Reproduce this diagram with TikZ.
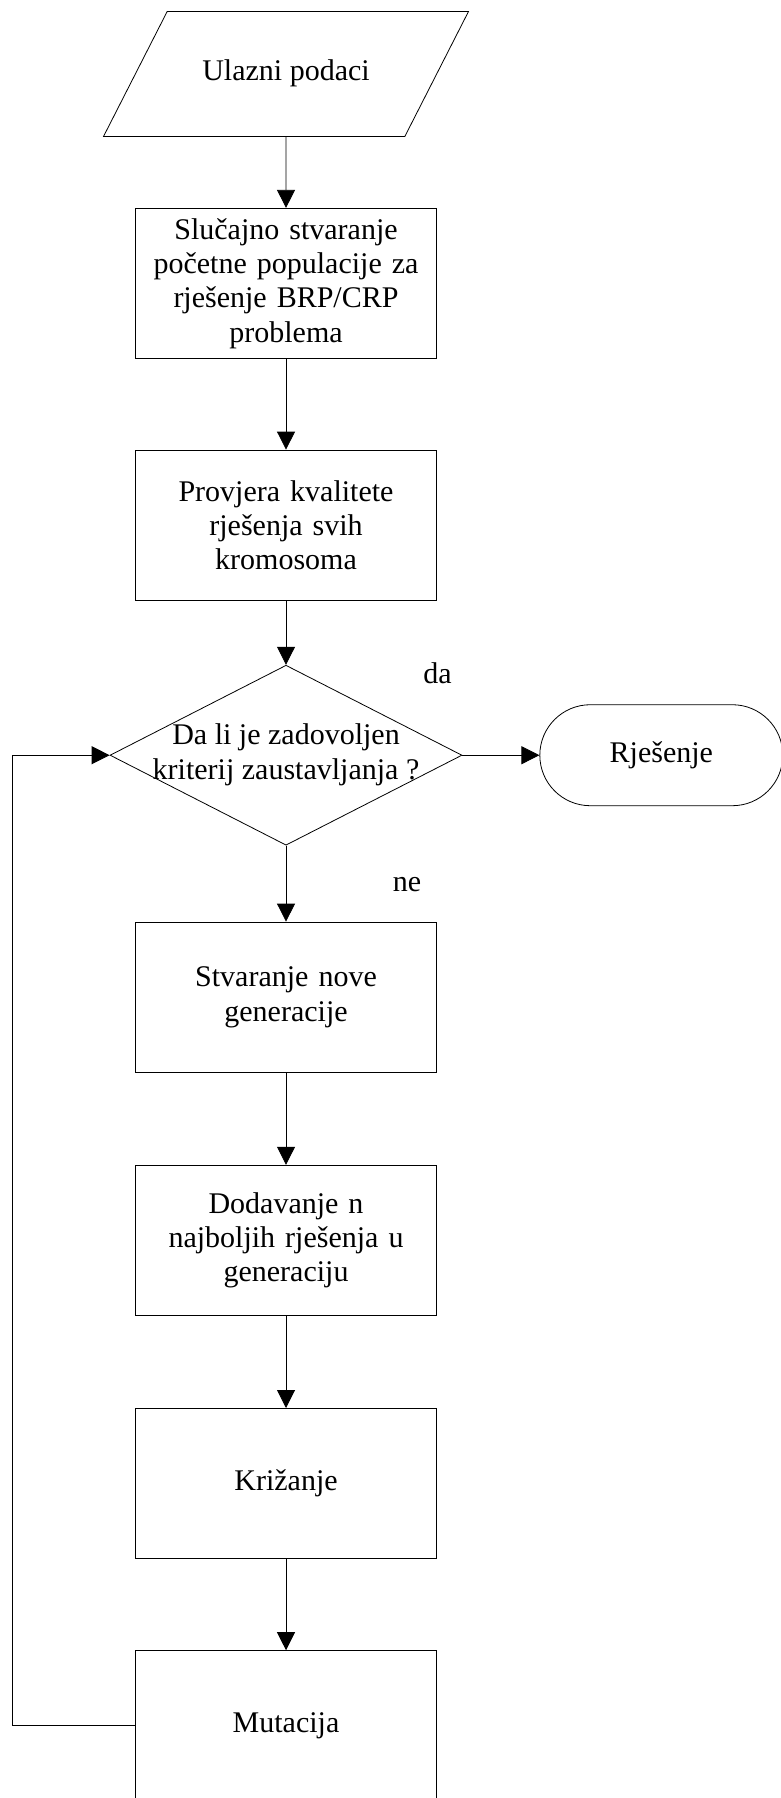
\documentclass[tikz,border=0pt]{standalone}
\usepackage{fontspec}
\setmainfont{Liberation Serif}
\usetikzlibrary{shapes.geometric, shapes.misc, arrows.meta, positioning}
\tikzstyle{io} = [trapezium, trapezium left angle=63, trapezium right angle=117, trapezium stretches body=true, minimum width=365pt, text height=20.5pt, text depth=6.5pt, inner xsep=30pt, inner ysep=49pt, text centered, draw=black]
\tikzstyle{process} = [rectangle, minimum width=300.5pt, minimum height=150.4pt, inner sep=0pt, text width=290pt, align=center, draw=black]
\tikzstyle{decision} = [diamond, minimum width=352pt, minimum height=180pt, inner sep=0pt, draw=black]
\tikzstyle{stopnode} = [rounded rectangle, minimum width=243pt, minimum height=101pt, inner sep=0pt, draw=black]
\tikzstyle{lbl} = [inner sep=0pt]
\tikzstyle{arrow} = [-{Triangle[length=18pt,width=18pt]}]

\begin{document}
\begin{tikzpicture}[line width=0.8pt, font=\fontsize{30pt}{34.4pt}\selectfont]

\useasboundingbox (0,0) rectangle (780pt,-1798pt);

\node (input) [io] at (286pt,-74pt) {Ulazni podaci};

\node (init) [process, below=71pt of input] {Slučajno stvaranje\\početne populacije za\\rješenje BRP/CRP\\problema};
\node (eval) [process, below=90.5pt of init] {Provjera kvalitete\\rješenja svih\\kromosoma};

\node (check) [decision, below=64pt of eval] {\makebox[0pt]{\begin{tabular}{@{}c@{}}Da li je zadovoljen\\kriterij zaustavljanja ?\end{tabular}}};
\node (result) [stopnode, right=77pt of check] {Rješenje};

\node (da) [lbl] at ([xshift=-25pt, yshift=82pt]check.east) {da};
\node (ne) [lbl] at ([xshift=121pt, yshift=-39pt]check.south) {ne};

\node (newgen) [process, below=76pt of check] {Stvaranje nove\\generacije};
\node (elite) [process, below=92pt of newgen] {Dodavanje n\\najboljih rješenja u\\generaciju};
\node (cross) [process, below=92pt of elite] {Križanje};
\node (mut) [process, below=91pt of cross] {Mutacija};

\coordinate (loop) at ([xshift=-122.7pt]mut.west);

\draw [arrow] (input) -- (init);
\draw [arrow] (init) -- (eval);
\draw [arrow] (eval) -- (check);
\draw [arrow] (check) -- (result);
\draw [arrow] (check) -- (newgen);
\draw [arrow] (newgen) -- (elite);
\draw [arrow] (elite) -- (cross);
\draw [arrow] (cross) -- (mut);
\draw [arrow] (mut.west) -- (loop) |- (check.west);

\end{tikzpicture}
\end{document}
